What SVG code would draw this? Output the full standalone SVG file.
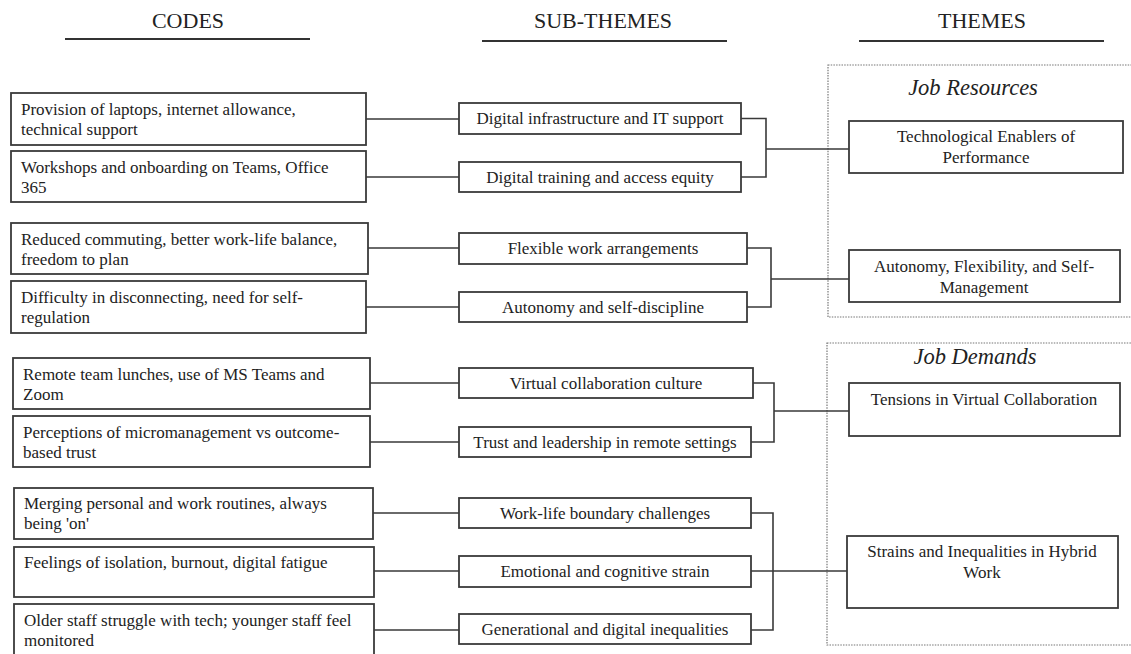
<svg xmlns="http://www.w3.org/2000/svg" width="1131" height="654" viewBox="0 0 1131 654">
<style>
text{font-family:"Liberation Serif","Times New Roman",serif;fill:#222}
.hd{font-size:22px}
.ul{stroke:#333;stroke-width:2}
.box{fill:#fff;stroke:#3a3a3a;stroke-width:1.8}
.code{font-size:17px}
.sub{font-size:17px;text-anchor:middle}
.th{font-size:17px;text-anchor:middle}
.grp{fill:none;stroke:#777;stroke-width:1.2;stroke-dasharray:1.5 1.2}
.gl{font-size:22.5px;font-style:italic;text-anchor:middle}
.cn{fill:none;stroke:#3a3a3a;stroke-width:1.6}
</style>
<rect width="1131" height="654" fill="#fff"/>
<g id="headers">
<text class="hd" x="188" y="28" text-anchor="middle">CODES</text>
<line class="ul" x1="65" y1="39" x2="310" y2="39"/>
<text class="hd" x="603" y="28" text-anchor="middle">SUB-THEMES</text>
<line class="ul" x1="482" y1="41" x2="727" y2="41"/>
<text class="hd" x="982" y="28" text-anchor="middle">THEMES</text>
<line class="ul" x1="859" y1="41" x2="1104" y2="41"/>
</g>
<g id="group-resources">
<rect class="grp" x="828" y="65" width="310" height="252"/>
<text class="gl" x="973" y="95">Job Resources</text>
</g>
<g id="group-demands">
<rect class="grp" x="827" y="343" width="310" height="302"/>
<text class="gl" x="975" y="364">Job Demands</text>
</g>
<g id="connectors">
<path class="cn" d="M366 119H459M366 177H459M368 248H459M366 307H459M370 383H459M370 442H459M373 513H459M374 571H459M374 630H459"/>
<path class="cn" d="M741 118.5H766V177H741M766 149H849"/>
<path class="cn" d="M747 248H771V307H747M771 279H849"/>
<path class="cn" d="M753 383H774V442H751M774 411H849"/>
<path class="cn" d="M751 513H773V630H751M751 571H847"/>
</g>
<g id="code1"><rect class="box" x="11" y="93" width="355" height="52"/><text class="code" x="21" y="115">Provision of laptops, internet allowance,</text><text class="code" x="21" y="135">technical support</text></g>
<g id="code2"><rect class="box" x="11" y="151" width="355" height="51"/><text class="code" x="21" y="173">Workshops and onboarding on Teams, Office</text><text class="code" x="21" y="193">365</text></g>
<g id="code3"><rect class="box" x="11" y="223" width="357" height="51"/><text class="code" x="21" y="245">Reduced commuting, better work-life balance,</text><text class="code" x="21" y="265">freedom to plan</text></g>
<g id="code4"><rect class="box" x="11" y="281" width="355" height="52"/><text class="code" x="21" y="303">Difficulty in disconnecting, need for self-</text><text class="code" x="21" y="323">regulation</text></g>
<g id="code5"><rect class="box" x="13" y="358" width="357" height="51"/><text class="code" x="23" y="380">Remote team lunches, use of MS Teams and</text><text class="code" x="23" y="400">Zoom</text></g>
<g id="code6"><rect class="box" x="13" y="416" width="357" height="51"/><text class="code" x="23" y="438">Perceptions of micromanagement vs outcome-</text><text class="code" x="23" y="458">based trust</text></g>
<g id="code7"><rect class="box" x="14" y="488" width="359" height="51"/><text class="code" x="24" y="509">Merging personal and work routines, always</text><text class="code" x="24" y="529">being 'on'</text></g>
<g id="code8"><rect class="box" x="14" y="547" width="360" height="50"/><text class="code" x="24" y="568">Feelings of isolation, burnout, digital fatigue</text></g>
<g id="code9"><rect class="box" x="14" y="604" width="360" height="54"/><text class="code" x="24" y="626">Older staff struggle with tech; younger staff feel</text><text class="code" x="24" y="646">monitored</text></g>
<g id="sub1"><rect class="box" x="459" y="103" width="282" height="31"/><text class="sub" x="600" y="124">Digital infrastructure and IT support</text></g>
<g id="sub2"><rect class="box" x="459" y="162" width="282" height="30"/><text class="sub" x="600" y="183">Digital training and access equity</text></g>
<g id="sub3"><rect class="box" x="459" y="233" width="288" height="31"/><text class="sub" x="603" y="254">Flexible work arrangements</text></g>
<g id="sub4"><rect class="box" x="459" y="292" width="288" height="30"/><text class="sub" x="603" y="313">Autonomy and self-discipline</text></g>
<g id="sub5"><rect class="box" x="459" y="368" width="294" height="30"/><text class="sub" x="606" y="389">Virtual collaboration culture</text></g>
<g id="sub6"><rect class="box" x="459" y="427" width="292" height="30"/><text class="sub" x="605" y="448">Trust and leadership in remote settings</text></g>
<g id="sub7"><rect class="box" x="459" y="498" width="292" height="30"/><text class="sub" x="605" y="519">Work-life boundary challenges</text></g>
<g id="sub8"><rect class="box" x="459" y="556" width="292" height="31"/><text class="sub" x="605" y="577">Emotional and cognitive strain</text></g>
<g id="sub9"><rect class="box" x="459" y="614" width="292" height="30"/><text class="sub" x="605" y="635">Generational and digital inequalities</text></g>
<g id="theme1"><rect class="box" x="849" y="121" width="274" height="52"/><text class="th" x="986" y="142">Technological Enablers of</text><text class="th" x="986" y="163">Performance</text></g>
<g id="theme2"><rect class="box" x="849" y="250" width="271" height="52"/><text class="th" x="984" y="272">Autonomy, Flexibility, and Self-</text><text class="th" x="984" y="293">Management</text></g>
<g id="theme3"><rect class="box" x="849" y="383" width="271" height="53"/><text class="th" x="984" y="405">Tensions in Virtual Collaboration</text></g>
<g id="theme4"><rect class="box" x="847" y="536" width="271" height="72"/><text class="th" x="982" y="557">Strains and Inequalities in Hybrid</text><text class="th" x="982" y="578">Work</text></g>
</svg>
